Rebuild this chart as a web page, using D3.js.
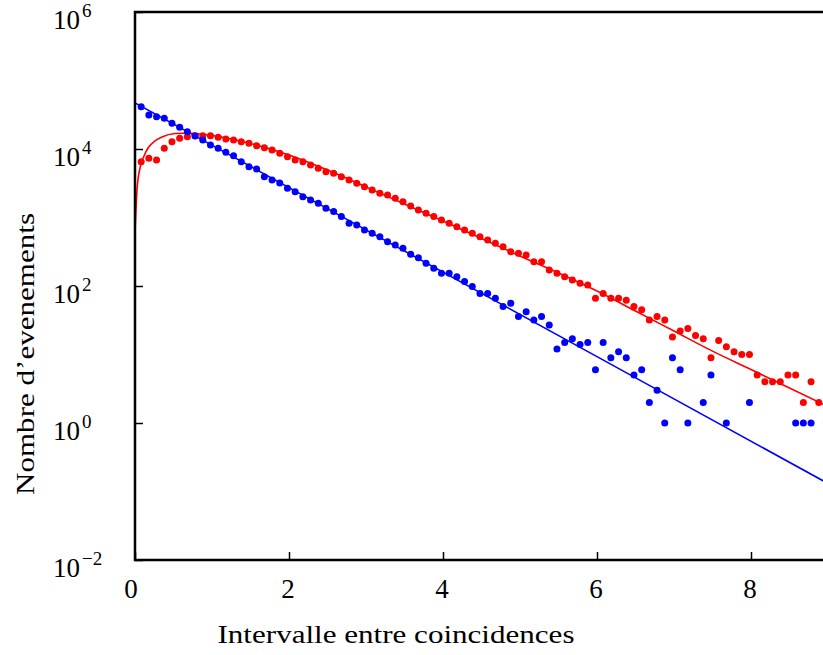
<!DOCTYPE html>
<html><head><meta charset="utf-8">
<script src="https://cdn.jsdelivr.net/npm/d3@7"></script>
<style>
html,body{margin:0;padding:0;background:#fff;}
svg{display:block;}
text{font-family:"Liberation Serif","DejaVu Serif",serif;fill:#000;}
</style></head>
<body>
<svg id="chart" width="823" height="655"></svg>
<script>
// bin centres (Intervalle entre coincidences)
const binX = [0.08,0.18,0.28,0.38,0.48,0.58,0.68,0.78,0.88,0.98,
  1.08,1.18,1.28,1.38,1.48,1.58,1.68,1.78,1.88,1.98,
  2.08,2.18,2.28,2.38,2.48,2.58,2.68,2.78,2.88,2.98,
  3.08,3.18,3.28,3.38,3.48,3.58,3.68,3.78,3.88,3.98,
  4.08,4.18,4.28,4.38,4.48,4.58,4.68,4.78,4.88,4.98,
  5.08,5.18,5.28,5.38,5.48,5.58,5.68,5.78,5.88,5.98,
  6.08,6.18,6.28,6.38,6.48,6.58,6.68,6.78,6.88,6.98,
  7.08,7.18,7.28,7.38,7.48,7.58,7.68,7.78,7.88,7.98,
  8.08,8.18,8.28,8.38,8.48,8.58,8.68,8.78,8.88,8.98];

// blue histogram counts (null = empty bin)
const blueCounts = [41500,31350,29630,28060,23720,20740,17900,15490,13530,11430,
  10230,8950,7990,6530,5520,5110,3940,3530,3190,2670,
  2380,2010,1800,1610,1360,1220,1030,823,778,657,
  588,525,443,397,355,290,259,214,181,153,
  153,137,116,98,78,78,66,50,56,36,
  42,32,36,27,12,15,17,14,15,6,
  15,9,11,9,5,6,2,3,1,9,
  6,1,null,2,5,null,1,null,null,2,
  null,null,null,null,null,1,1,1,null,1];

// red histogram counts
const redCounts = [6530,7310,6910,10230,12790,14330,15130,15630,15630,15630,
  14820,14000,13530,12790,12110,11170,10450,9670,8650,7720,
  6910,6530,5840,5230,4670,4420,3940,3530,3160,2820,
  2520,2260,2130,1910,1700,1470,1290,1150,1030,920,
  823,734,657,588,525,470,420,375,317,300,
  284,226,226,171,153,137,122,110,103,66,
  78,66,66,62,50,45,32,36,32,18,
  22,24,19,17,9,16,13,11,10,10,
  5,4,4,4,5,5,2,4,2,null];

// fitted curves
const blueFitX = [0, 3, 6, 9];
const blueFitY = [47000, 659, 9.3, 0.131];
const redFitX = [0, 0.026, 0.065, 0.117, 0.169, 0.26, 0.35, 0.52, 0.69, 0.84, 1.0,
  1.5, 2.0, 2.5, 3.0, 3.5, 4.0, 4.5, 5.0, 5.5, 6.0, 6.5, 7.0, 7.5, 8.0, 8.5, 9.0];
const redFitY = [610, 2520, 5280, 7910, 10350, 13100, 14970, 16830, 17130, 16560, 15740,
  12030, 8170, 4930, 2790, 1570, 889, 493, 274, 155, 84.5, 43.2, 22.0, 11.2, 6.04, 3.24, 1.74];

const xTicks = [0, 2, 4, 6, 8];
const yTicks = [1e-2, 1, 1e2, 1e4, 1e6];
const yTickExp = ["\u22122", "0", "2", "4", "6"];
const xTitle = "Intervalle entre coincidences";
const yTitle = "Nombre d\u2019evenements";

const svg = d3.select("#chart");
const L = 135, T = 12, B = 560, R = 828;
const x = d3.scaleLinear().domain([0, 9]).range([L, R]);
const y = d3.scaleLog().domain([1e-2, 1e6]).range([B, T]);

svg.append("defs").append("clipPath").attr("id", "clip")
  .append("rect").attr("x", L).attr("y", T).attr("width", R - L).attr("height", B - T);

const plot = svg.append("g").attr("clip-path", "url(#clip)");

const line = d3.line().x(d => x(d[0])).y(d => y(d[1])).curve(d3.curveMonotoneX);

plot.append("path").datum(blueFitX.map((v, i) => [v, blueFitY[i]]))
  .attr("d", line).attr("fill", "none").attr("stroke", "#0000ff").attr("stroke-width", 1.6);
plot.append("path").datum(redFitX.map((v, i) => [v, redFitY[i]]))
  .attr("d", line).attr("fill", "none").attr("stroke", "#ff0000").attr("stroke-width", 1.6);

function dots(counts, color) {
  const pts = binX.map((v, i) => [v, counts[i]]).filter(d => d[1] != null && d[1] > 0);
  plot.append("g").selectAll("circle").data(pts).join("circle")
    .attr("cx", d => x(d[0])).attr("cy", d => y(d[1])).attr("r", 3.5).attr("fill", color);
}
dots(redCounts, "#ff0000");
dots(blueCounts, "#0000ff");

// axes with inward ticks
const ax = svg.append("g").attr("transform", `translate(0,${B})`)
  .call(d3.axisBottom(x).tickValues(xTicks).tickSize(-8).tickFormat(""));
const ay = svg.append("g").attr("transform", `translate(${L},0)`)
  .call(d3.axisLeft(y).tickValues(yTicks).tickSize(-8).tickFormat(""));
[ax, ay].forEach(g => {
  g.select(".domain").remove();
  g.selectAll(".tick line").attr("stroke", "#000").attr("stroke-width", 1.5);
});

// frame
svg.append("path").attr("d", `M${R},${T}H${L}V${B}H${R}`)
  .attr("fill", "none").attr("stroke", "#000").attr("stroke-width", 2.5);

// x tick labels
svg.append("g").selectAll("text").data(xTicks).join("text")
  .attr("x", d => x(d) - (d === 0 ? 4 : 1)).attr("y", 598).attr("text-anchor", "middle")
  .attr("font-size", 27).text(d => d);

// y tick labels
const yl = svg.append("g").selectAll("text").data(yTicks).join("text")
  .attr("x", 53).attr("y", d => y(d) + 17).attr("font-size", 27);
yl.append("tspan").text("10");
yl.append("tspan").attr("dx", 2).attr("dy", -12).attr("font-size", 19).text((d, i) => yTickExp[i]);

// titles
svg.append("text").attr("x", 396).attr("y", 643).attr("text-anchor", "middle")
  .attr("font-size", 26).attr("textLength", 357).attr("lengthAdjust", "spacingAndGlyphs").text(xTitle);
svg.append("text").attr("transform", "translate(34,354) rotate(-90)")
  .attr("text-anchor", "middle").attr("font-size", 26)
  .attr("textLength", 282).attr("lengthAdjust", "spacingAndGlyphs").text(yTitle);
</script>
</body></html>
